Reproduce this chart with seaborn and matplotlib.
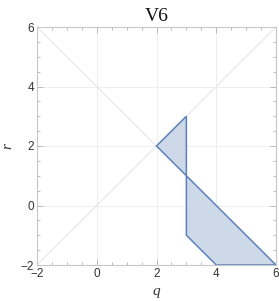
import numpy as np
import pandas as pd
import matplotlib
matplotlib.use("Agg")
import matplotlib.pyplot as plt
import seaborn as sns
from matplotlib.ticker import MultipleLocator, FixedLocator

# -------------------------
# data
# -------------------------
tri_q = [2, 3, 3]
tri_r = [2, 3, 1]
quad_q = [3, 3, 4, 6]
quad_r = [1, -1, -2, -2]

diag1_q = [-2, 6]
diag1_r = [-2, 6]
diag2_q = [-2, 6]
diag2_r = [6, -2]

ticks = [-2, 0, 2, 4, 6]
grid_vals = [0, 2, 4]

sns.set_theme(style="white")
plt.rcParams['font.family'] = ['Liberation Sans', 'DejaVu Sans']

fig = plt.figure(figsize=(2.79, 3.01), dpi=100)
ax = fig.add_axes([37 / 279, 36 / 301, 239 / 279, 238 / 301])

# faint grid
for g in grid_vals:
    ax.axvline(g, color="#eeeeee", lw=0.7, zorder=0)
    ax.axhline(g, color="#eeeeee", lw=0.7, zorder=0)

# diagonal guides
diag = pd.DataFrame({
    "q": diag1_q + diag2_q,
    "r": diag1_r + diag2_r,
    "line": ["a", "a", "b", "b"],
})
sns.lineplot(data=diag, x="q", y="r", units="line", estimator=None,
             color="#e4e4e4", lw=0.7, ax=ax, sort=False, zorder=1)

fill_c = "#cdd8e8"
edge_c = "#5e82bb"
ax.fill(tri_q, tri_r, facecolor=fill_c, edgecolor=edge_c, lw=1.1, zorder=3)
ax.fill(quad_q, quad_r, facecolor=fill_c, edgecolor=edge_c, lw=1.1, zorder=3)

ax.set_xlim(-2, 6)
ax.set_ylim(-2, 6)
ax.xaxis.set_major_locator(FixedLocator(ticks))
ax.yaxis.set_major_locator(FixedLocator(ticks))
ax.xaxis.set_minor_locator(MultipleLocator(0.5))
ax.yaxis.set_minor_locator(MultipleLocator(0.5))
ax.set_xticklabels([str(t).replace("-", "\u2212") for t in ticks])
ax.set_yticklabels([str(t).replace("-", "\u2212") for t in ticks])

ax.tick_params(which="both", direction="in", top=True, right=True,
               bottom=True, left=True, color="#b0b0b0", width=0.6,
               labelsize=8.5, labelcolor="#333333", pad=2)
ax.tick_params(which="major", length=4)
ax.tick_params(which="minor", length=2)

for s in ax.spines.values():
    s.set_color("#c8c8c8")
    s.set_linewidth(0.8)

ax.set_xlabel("q", family=["Liberation Serif"], style="italic",
              fontsize=11, color="#333333", labelpad=4)
ax.set_ylabel("r", family=["Liberation Serif"], style="italic",
              fontsize=11, color="#333333", labelpad=5, rotation=90)
ax.set_title("V6", family=["Liberation Serif"], fontsize=14, color="#111111", pad=4)

fig.savefig("out.png", dpi=100)
